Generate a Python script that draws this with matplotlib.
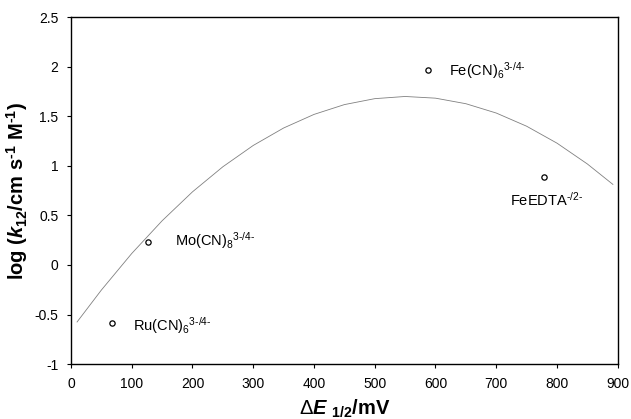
import matplotlib
matplotlib.use("Agg")
import matplotlib.pyplot as plt

plt.rcParams['font.family'] = ['Liberation Sans', 'DejaVu Sans']
plt.rcParams['mathtext.fontset'] = 'custom'
plt.rcParams['mathtext.it'] = 'Liberation Sans:italic:bold'
plt.rcParams['mathtext.rm'] = 'Liberation Sans'
plt.rcParams['mathtext.bf'] = 'Liberation Sans:bold'

# Measured couples: driving force (mV) and log cross-reaction rate constant
couples = ["Ru(CN)$_\\mathregular{6}$$^\\mathregular{3\u2010/4\u2010}$",
           "Mo(CN)$_\\mathregular{8}$$^\\mathregular{3\u2010/4\u2010}$",
           "Fe(CN)$_\\mathregular{6}$$^\\mathregular{3\u2010/4\u2010}$",
           "FeEDTA$^\\mathregular{\u2010/2\u2010}$"]
dE = [68, 127, 588, 778]
logk = [-0.59, 0.23, 1.97, 0.89]

# Label anchor points (data coordinates)
label_x = [102, 171, 623, 723]
label_y = [-0.66, 0.19, 1.905, 0.594]

# Fitted Marcus curve
fit_dE = [10, 50, 100, 150, 200, 250, 300, 350, 400, 450, 500, 550,
          600, 650, 700, 750, 800, 850, 892]
fit_logk = [-0.575, -0.253, 0.116, 0.446, 0.738, 0.991, 1.206, 1.382,
            1.519, 1.618, 1.678, 1.700, 1.683, 1.627, 1.533, 1.400,
            1.229, 1.019, 0.813]

fig = plt.figure(figsize=(6.31, 4.19), dpi=100)
ax = fig.add_axes([0.1125, 0.131, 0.8665, 0.828])

ax.plot(fit_dE, fit_logk, color='#808080', lw=0.6)
ax.plot(dE, logk, linestyle='none', marker='o', ms=3.8, mfc='white',
        mec='black', mew=0.9)

for name, x, y in zip(couples, label_x, label_y):
    ax.text(x, y, name, fontsize=10.5, va='baseline', ha='left')

ax.set_xlim(0, 900)
ax.set_ylim(-1, 2.5)
ax.set_xticks(range(0, 901, 100))
ax.set_yticks([-1, -0.5, 0, 0.5, 1, 1.5, 2, 2.5])
ax.set_yticklabels(['-1', '-0.5', '0', '0.5', '1', '1.5', '2', '2.5'])
ax.tick_params(direction='out', length=3, width=0.8, labelsize=10, pad=6)

for s in ax.spines.values():
    s.set_linewidth(1.0)

ax.set_ylabel("log ($\\mathit{k}_\\mathregular{12}$/cm s$^\\mathregular{\u20101}$ M$^\\mathregular{\u20101}$)",
              fontsize=14.5, fontweight='bold', labelpad=3)
ax.set_xlabel("$\\Delta\\mathit{E}$ $_\\mathregular{1/2}$/mV", fontsize=14.5,
              fontweight='bold', labelpad=5)

fig.savefig("out.png", dpi=100)
